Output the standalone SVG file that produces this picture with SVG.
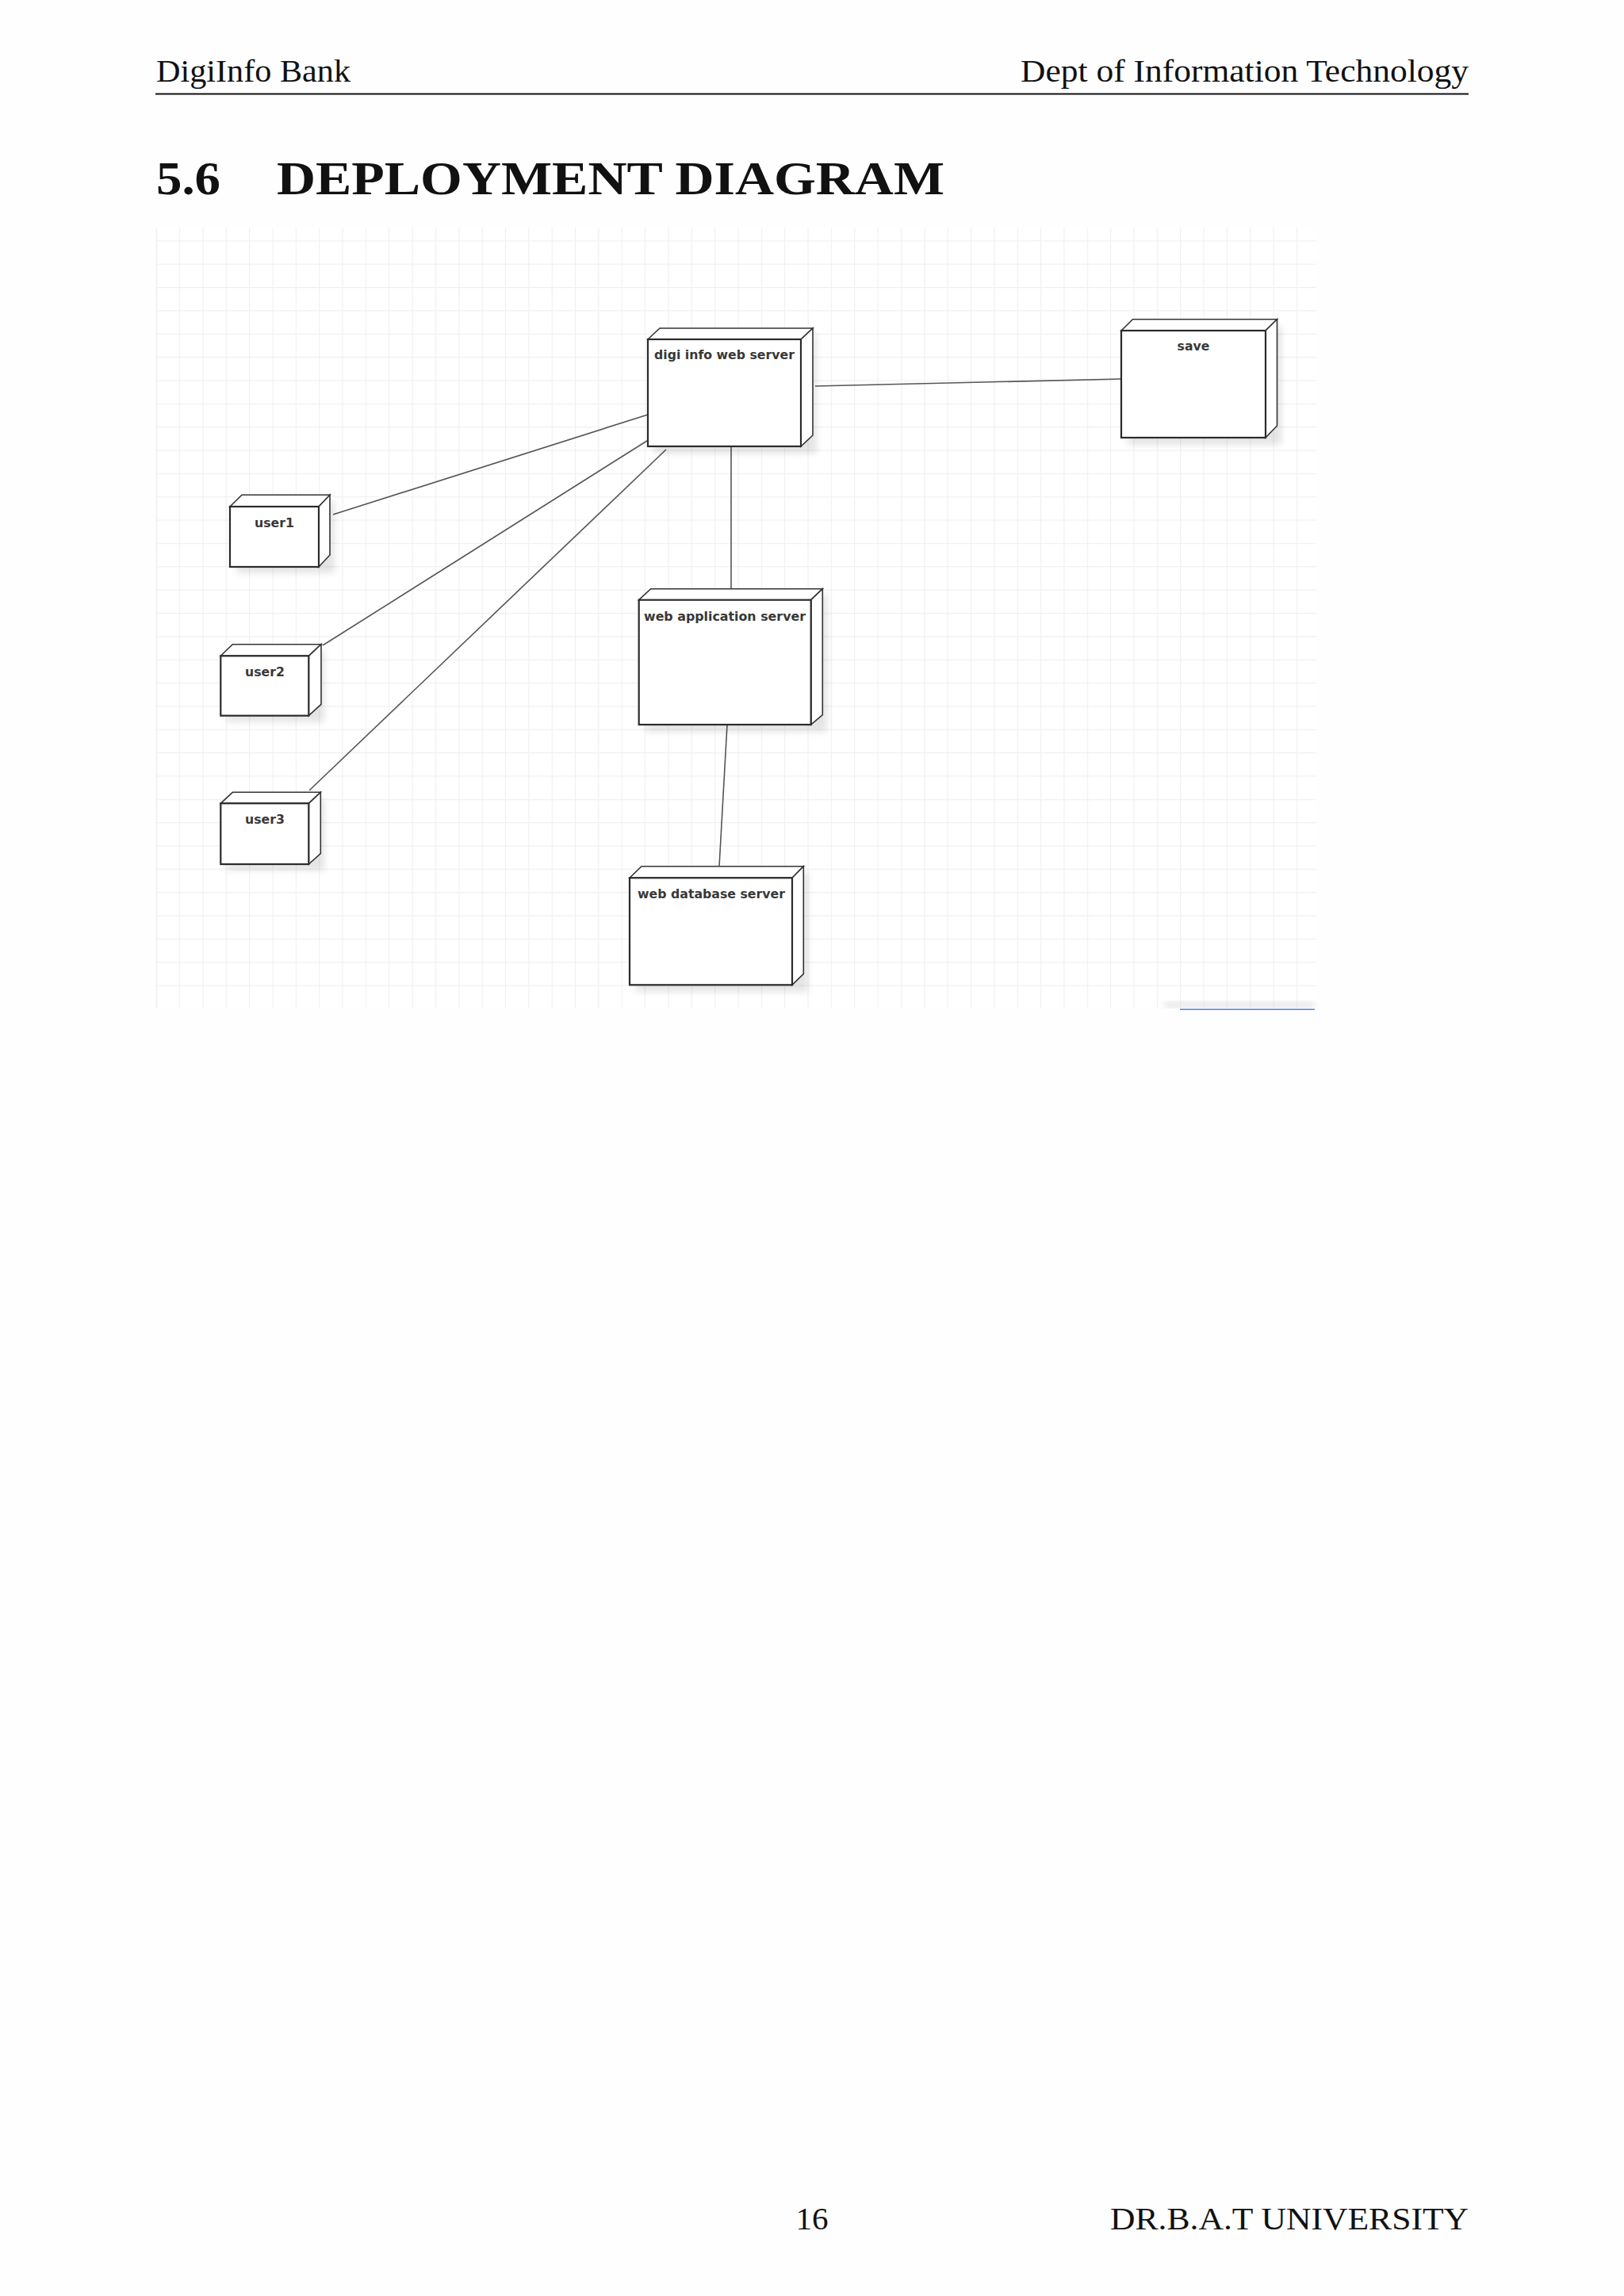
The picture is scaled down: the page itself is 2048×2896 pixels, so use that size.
<svg xmlns="http://www.w3.org/2000/svg" width="2048" height="2896" viewBox="0 0 2048 2896">
<defs>
<style>
.hdr{font-family:"Liberation Serif","DejaVu Serif",serif;font-size:41px;fill:#111}
.ttl{font-family:"Liberation Serif","DejaVu Serif",serif;font-size:60px;font-weight:bold;fill:#111}
.lbl{font-family:"DejaVu Sans","Liberation Sans",sans-serif;font-size:15.7px;font-weight:bold;fill:#383838;text-anchor:middle}
.face{fill:#fff;stroke:#333;stroke-width:1.6;stroke-linejoin:miter}
.front{fill:#fff;stroke:#2b2b2b;stroke-width:2.2}
.shadow{fill:#000;opacity:0.10;filter:url(#blur)}
.conn line{stroke:#555;stroke-width:1.6}
</style>
<filter id="blur" x="-20%" y="-20%" width="140%" height="140%"><feGaussianBlur stdDeviation="4"/></filter>
<pattern id="grid" x="196.7" y="303.3" width="29.35" height="29.35" patternUnits="userSpaceOnUse">
<path d="M0 0.5 H29.35 M0.5 0 V29.35" stroke="#f0f0f0" stroke-width="1.4" fill="none"/>
</pattern>
</defs>
<rect width="2048" height="2896" fill="#fefefe"/>
<g id="header">
<text class="hdr" x="197" y="103" textLength="245" lengthAdjust="spacingAndGlyphs">DigiInfo Bank</text>
<text class="hdr" x="1852" y="103" text-anchor="end" textLength="565" lengthAdjust="spacingAndGlyphs">Dept of Information Technology</text>
<line x1="196" y1="118.5" x2="1852" y2="118.5" stroke="#111" stroke-width="2"/>
</g>
<g id="title">
<text class="ttl" x="197" y="245" textLength="81" lengthAdjust="spacingAndGlyphs">5.6</text>
<text class="ttl" x="349" y="245" textLength="842" lengthAdjust="spacingAndGlyphs">DEPLOYMENT DIAGRAM</text>
</g>
<g id="canvas">
<rect x="196.7" y="287" width="1463.3" height="985" fill="#fff"/>
<rect x="196.7" y="287" width="1463.3" height="985" fill="url(#grid)"/>
<line x1="197.4" y1="287" x2="197.4" y2="1272" stroke="#f0f0f0" stroke-width="1.4"/>
<rect x="1468" y="1264" width="190" height="6" fill="#d8d8d8" opacity="0.8" filter="url(#blur)"/>
<line x1="1488" y1="1273.3" x2="1658" y2="1273.3" stroke="#4a86e8" stroke-width="1.6"/>
</g>
<g id="connectors" class="conn">
<line x1="1028" y1="487" x2="1414" y2="478"/>
<line x1="420" y1="649" x2="817" y2="523"/>
<line x1="407" y1="814" x2="816" y2="556"/>
<line x1="390" y1="997" x2="840" y2="567"/>
<line x1="922" y1="564" x2="922" y2="743"/>
<line x1="917" y1="914" x2="907" y2="1093"/>
</g>
<g id="node-webserver">
<rect class="shadow" x="825" y="422" width="205" height="150"/>
<polygon class="face" points="817,428 832,414 1025,414 1010,428"/>
<polygon class="face" points="1010,428 1025,414 1025,549 1010,563"/>
<rect class="front" x="817" y="428" width="193" height="135"/>
<text class="lbl" x="913.5" y="453" textLength="177" lengthAdjust="spacingAndGlyphs">digi info web server</text>
</g>
<g id="node-save">
<rect class="shadow" x="1422" y="411" width="194" height="150"/>
<polygon class="face" points="1414,417 1428.5,402.7 1610.5,402.7 1596,417"/>
<polygon class="face" points="1596,417 1610.5,402.7 1610.5,537 1596,552"/>
<rect class="front" x="1414" y="417" width="182" height="135"/>
<text class="lbl" x="1505" y="442">save</text>
</g>
<g id="node-user1">
<rect class="shadow" x="298" y="633" width="124" height="90"/>
<polygon class="face" points="290,639 305,624.3 416,624.3 402,639"/>
<polygon class="face" points="402,639 416,624.3 416,700 402,715"/>
<rect class="front" x="290" y="639" width="112" height="76"/>
<text class="lbl" x="346" y="665">user1</text>
</g>
<g id="node-user2">
<rect class="shadow" x="286" y="821" width="123" height="90"/>
<polygon class="face" points="278.3,827.3 293.3,812.7 405,812.7 389.3,827.3"/>
<polygon class="face" points="389.3,827.3 405,812.7 405,888.3 389.3,902.7"/>
<rect class="front" x="278.3" y="827.3" width="111" height="75.4"/>
<text class="lbl" x="334" y="853">user2</text>
</g>
<g id="node-user3">
<rect class="shadow" x="286" y="1007" width="123" height="91"/>
<polygon class="face" points="278.3,1013.3 293.3,999.3 404.3,999.3 389.3,1013.3"/>
<polygon class="face" points="389.3,1013.3 404.3,999.3 404.3,1076.7 389.3,1090"/>
<rect class="front" x="278.3" y="1013.3" width="111" height="76.7"/>
<text class="lbl" x="334" y="1038.5">user3</text>
</g>
<g id="node-appserver">
<rect class="shadow" x="814" y="751" width="229" height="172"/>
<polygon class="face" points="805.7,756.7 820.7,742.7 1037.3,742.7 1022.7,756.7"/>
<polygon class="face" points="1022.7,756.7 1037.3,742.7 1037.3,901.7 1022.7,914"/>
<rect class="front" x="805.7" y="756.7" width="217" height="157.3"/>
<text class="lbl" x="914" y="783" textLength="204" lengthAdjust="spacingAndGlyphs">web application server</text>
</g>
<g id="node-dbserver">
<rect class="shadow" x="802" y="1101" width="217" height="150"/>
<polygon class="face" points="794,1107.3 809,1092.7 1013.3,1092.7 999,1107.3"/>
<polygon class="face" points="999,1107.3 1013.3,1092.7 1013.3,1228.3 999,1242.3"/>
<rect class="front" x="794" y="1107.3" width="205" height="135"/>
<text class="lbl" x="897" y="1133" textLength="186" lengthAdjust="spacingAndGlyphs">web database server</text>
</g>
<g id="footer">
<text class="hdr" x="1024" y="2812" text-anchor="middle">16</text>
<text class="hdr" x="1852" y="2812" text-anchor="end" textLength="452" lengthAdjust="spacingAndGlyphs">DR.B.A.T UNIVERSITY</text>
</g>
</svg>
